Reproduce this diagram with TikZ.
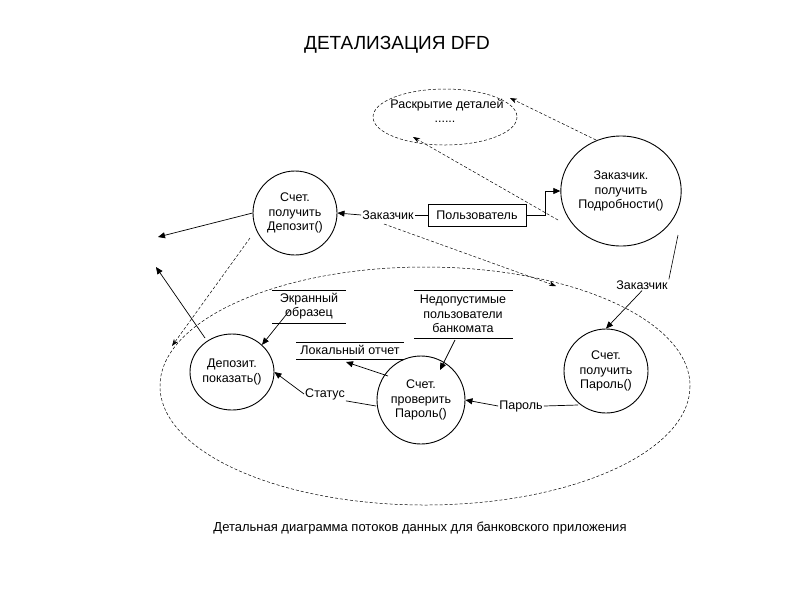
\documentclass[tikz,border=0pt]{standalone}
\usepackage{fontspec}
\setmainfont{Liberation Sans}
\usetikzlibrary{arrows.meta,shapes.geometric}
\begin{document}
\begin{tikzpicture}[x=1pt,y=-1pt,
  proc/.style={draw,ellipse,line width=0.9pt,minimum width=#1,minimum height=#1,inner sep=0pt,align=center,font=\fontsize{12.5}{14.5}\selectfont},
  lbl/.style={font=\fontsize{12.5}{14.5}\selectfont,align=center,inner sep=1pt},
  flow/.style={line width=0.7pt,-{Triangle[length=7pt,width=6pt]}},
  dflow/.style={densely dashed,line width=0.5pt,-{Stealth[length=7pt,width=5pt]}},
  store/.style={line width=0.8pt}]
\useasboundingbox[fill=white] (0,0) rectangle (794,595);
\node[font=\fontsize{19}{22}\selectfont] (title) at (397,45) {ДЕТАЛИЗАЦИЯ DFD};
% outer ellipses
\draw[densely dashed,line width=0.5pt] (445,117) ellipse (72 and 28);
\node[lbl] (rd) at (447,105) {Раскрытие деталей};
\node[lbl] (rdd) at (445,122) {......};
\coordinate (rdA) at (510,98);
\coordinate (rdB) at (413,137);
\draw[densely dashed,line width=0.5pt] (425,386) ellipse (265 and 119);
% processes
\node[proc=84pt] (dep) at (295,213) {Счет.\\получить\\Депозит()};
\node[proc=110pt] (pod) at (621,191) {Заказчик.\\получить\\Подробности()};
\node[proc=84pt,minimum height=76pt] (show) at (232,372) {Депозит.\\показать()};
\node[proc=88pt] (chk) at (421,400) {Счет.\\проверить\\Пароль()};
\node[proc=84pt] (getp) at (606,371) {Счет.\\получить\\Пароль()};
% user box
\node[draw,line width=0.8pt,minimum width=98pt,minimum height=22pt,lbl] (user) at (477,215) {Пользователь};
\node[lbl] (zak1) at (388,215) {Заказчик};
\draw[line width=0.7pt] (user.west) -- (zak1.east);
\draw[flow] (zak1.west) -- (dep.east);
\draw[flow] (user.east) -- ++(19,0) |- (pod.west);
% to details
\coordinate (podA) at (596,140);
\coordinate (podB) at (558,220);
\draw[dflow] (podA) -- (rdA);
\draw[dflow] (podB) -- (rdB);
% from dep
\coordinate (outL1) at (158,237);
\draw[flow] (dep.west) -- (outL1);
\coordinate (depB) at (250,238);
\coordinate (inShow) at (172,346);
\draw[dflow] (depB) -- (inShow);
\coordinate (zakB) at (384,224);
\coordinate (inBig) at (556,286);
\draw[dflow] (zakB) -- (inBig);
\coordinate (outL2) at (156,267);
\coordinate (showT) at (205,338);
\draw[flow] (showT) -- (outL2);
% right Заказчик
\coordinate (rtop) at (678,235);
\node[lbl] (zak2) at (642,285) {Заказчик};
\draw[line width=0.6pt] (rtop) -- (zak2.north east);
\draw[flow] (zak2.south) -- (getp.north);
% stores
\draw[store] (272,290) -- (346,290) (272,323) -- (346,323);
\node[lbl] (scr) at (309,306) {Экранный\\образец};
\draw[store] (414,290) -- (513,290) (414,338) -- (513,338);
\node[lbl] (bad) at (463,314) {Недопустимые\\пользователи\\банкомата};
\draw[store] (296,342) -- (404,342) (296,359) -- (404,359);
\node[lbl] (loc) at (350,350) {Локальный отчет};
\coordinate (scrB) at (290,310);
\draw[flow] (scrB) -- (show.north east);
\coordinate (badB) at (455,340);
\coordinate (chkT) at (440,370);
\draw[flow] (badB) -- (chkT);
\coordinate (chkL) at (388,376);
\coordinate (locB) at (346,362);
\draw[flow] (chkL) -- (locB);
% Статус
\node[lbl] (st) at (325,394) {Статус};
\coordinate (chkW) at (376,406);
\draw[line width=0.7pt] (chkW) -- (st.south east);
\draw[flow] (st.west) -- (show.east);
% Пароль
\node[lbl] (pw) at (521,406) {Пароль};
\coordinate (getpB) at (578,405);
\draw[line width=0.7pt] (getpB) -- (pw.east);
\draw[flow] (pw.west) -- (chk.east);
\node[font=\fontsize{13}{15}\selectfont] (cap) at (420,528) {Детальная диаграмма потоков данных для банковского приложения};
\end{tikzpicture}
\end{document}
